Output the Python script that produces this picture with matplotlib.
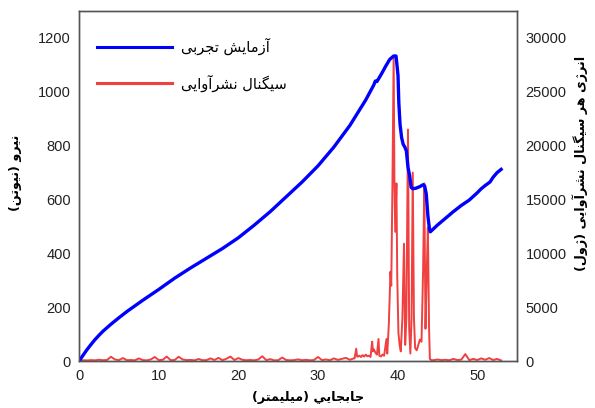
import matplotlib
matplotlib.use("Agg")
import matplotlib.pyplot as plt

# =========================
# Data
# =========================

# Force curve: displacement (mm) / force (N)
force_disp = [0, 0.5, 1, 1.5, 2, 2.5, 3, 3.5, 4, 5, 6, 7, 8, 10, 12, 14, 16, 18, 20,
              22, 24, 26, 28, 30, 32, 34, 36, 37.0, 37.2, 37.4, 37.6, 38.0, 38.5,
              39.0, 39.5, 39.8, 39.95, 40.05, 40.15, 40.3, 40.5, 40.7, 40.9, 41.1,
              41.3, 41.5, 41.7, 41.9, 42.3, 42.8, 43.2, 43.4, 43.6, 43.8, 44.0, 44.1,
              45, 46, 47, 48, 49, 50, 50.5, 51, 51.6, 52, 52.5, 53]
force_val = [0, 22, 43, 62, 80, 96, 111, 124, 137, 161, 184, 205, 226, 266, 308,
             346, 382, 418, 458, 505, 555, 610, 665, 725, 795, 875, 970, 1025,
             1040, 1038, 1048, 1068, 1095, 1120, 1133, 1133, 1090, 1060, 960, 880,
             830, 805, 795, 780, 720, 690, 645, 640, 642, 648, 655, 650, 620, 540,
             490, 480, 505, 530, 555, 578, 598, 625, 640, 652, 665, 683, 700, 712]

# Acoustic emission energy per signal: displacement (mm) / energy (J)
ae_disp = [0.0, 0.5, 1.0, 1.5, 2.0, 2.5, 3.0, 3.5, 4.0, 4.5, 5.0, 5.5, 6.0, 6.5,
           7.0, 7.5, 8.0, 8.5, 9.0, 9.5, 10.0, 10.5, 11.0, 11.5, 12.0, 12.5, 13.0,
           13.5, 14.0, 14.5, 15.0, 15.5, 16.0, 16.5, 17.0, 17.5, 18.0, 18.5, 19.0,
           19.5, 20.0, 20.5, 21.0, 21.5, 22.0, 22.5, 23.0, 23.5, 24.0, 24.5, 25.0,
           25.5, 26.0, 26.5, 27.0, 27.5, 28.0, 28.5, 29.0, 29.5, 30.0, 30.5, 31.0,
           31.5, 32.0, 32.5, 33.0, 33.5, 34.0, 34.5,
           34.6, 34.8, 34.9, 35.0, 35.2, 35.4, 35.6, 35.8, 36.0, 36.2, 36.4, 36.6,
           36.8, 36.9, 37.0, 37.2, 37.4, 37.6, 37.7, 37.9, 38.1, 38.3, 38.6, 38.7,
           38.9, 39.1, 39.2, 39.35, 39.5, 39.6, 39.7, 39.85, 39.95, 40.1, 40.25,
           40.4, 40.6, 40.8, 40.95, 41.1, 41.3, 41.45, 41.6, 41.75, 41.9, 42.05,
           42.2, 42.4, 42.6, 42.8, 43.0, 43.2, 43.35, 43.5, 43.65, 43.8, 43.95,
           44.05, 44.2, 44.5, 45.0, 45.5, 46.0, 46.5, 47.0, 47.5, 48.0, 48.5, 49.0,
           49.5, 50.0, 50.5, 51.0, 51.5, 52.0, 52.5, 53.0]
ae_energy = [0, 80, 60, 90, 70, 120, 80, 100, 400, 150,
             90, 280, 80, 100, 70, 250, 90, 70, 150, 380,
             90, 120, 420, 80, 100, 400, 150, 90, 110, 70,
             200, 80, 90, 250, 100, 300, 80, 220, 420, 100,
             280, 120, 80, 100, 70, 150, 450, 90, 180, 70,
             80, 330, 100, 70, 90, 160, 80, 120, 70, 100,
             380, 90, 150, 80, 250, 110, 200, 300, 120, 250,
             250, 1150, 450, 400, 500, 380, 550, 420, 600, 450, 500, 380,
             1800, 900, 1100, 800, 600, 2050, 500, 420, 600, 500, 2050, 700,
             3500, 8300, 7000, 16500, 28300, 16500, 12000, 16500, 8000, 2600, 1500,
             900, 4000, 10900, 1500, 4000, 21500, 3000, 700, 4000, 17500, 4000,
             1200, 1000, 1500, 2000, 1800, 8400, 16500, 3000, 8000, 12400, 3000,
             200, 100, 80, 150, 90, 120, 80, 200, 100, 130, 650, 90,
             200, 100, 250, 120, 280, 100, 200, 60]

X_TICKS = [0, 10, 20, 30, 40, 50]
F_TICKS = [0, 200, 400, 600, 800, 1000, 1200]
E_TICKS = [0, 5000, 10000, 15000, 20000, 25000, 30000]

LABEL_FORCE = "آزمایش تجربی"
LABEL_AE = "سیگنال نشرآوایی"
XLABEL = "جابجايي (میلیمتر)"
YLABEL_L = "نیرو (نیوتن)"
YLABEL_R = "انرژی هر سیگنال نشرآوایی (ژول)"

BLUE = "#0000ff"
RED = "#f04040"


# =========================
# Minimal Persian shaping (matplotlib does no RTL / joining)
# =========================

# letter: (isolated, final, initial, medial); 2-tuple means right-joining only
FORMS = {
    "ا": ("\uFE8D", "\uFE8E"),
    "آ": ("\uFE81", "\uFE82"),
    "ر": ("\uFEAD", "\uFEAE"),
    "ز": ("\uFEAF", "\uFEB0"),
    "ژ": ("\uFB8A", "\uFB8B"),
    "و": ("\uFEED", "\uFEEE"),
    "ب": ("\uFE8F", "\uFE90", "\uFE91", "\uFE92"),
    "ت": ("\uFE95", "\uFE96", "\uFE97", "\uFE98"),
    "ج": ("\uFE9D", "\uFE9E", "\uFE9F", "\uFEA0"),
    "س": ("\uFEB1", "\uFEB2", "\uFEB3", "\uFEB4"),
    "ش": ("\uFEB5", "\uFEB6", "\uFEB7", "\uFEB8"),
    "گ": ("\uFB92", "\uFB93", "\uFB94", "\uFB95"),
    "ل": ("\uFEDD", "\uFEDE", "\uFEDF", "\uFEE0"),
    "م": ("\uFEE1", "\uFEE2", "\uFEE3", "\uFEE4"),
    "ن": ("\uFEE5", "\uFEE6", "\uFEE7", "\uFEE8"),
    "ه": ("\uFEE9", "\uFEEA", "\uFEEB", "\uFEEC"),
    "ی": ("\uFBFC", "\uFBFD", "\uFBFE", "\uFBFF"),
    "ي": ("\uFEF1", "\uFEF2", "\uFEF3", "\uFEF4"),
}


def shape_fa(text):
    out = []
    for i, ch in enumerate(text):
        forms = FORMS.get(ch)
        if forms is None:
            out.append(ch)
            continue
        prev = text[i - 1] if i > 0 else ""
        nxt = text[i + 1] if i + 1 < len(text) else ""
        joins_prev = prev in FORMS and len(FORMS[prev]) == 4
        joins_next = len(forms) == 4 and nxt in FORMS
        if joins_prev and joins_next:
            out.append(forms[3])
        elif joins_prev:
            out.append(forms[1])
        elif joins_next:
            out.append(forms[2])
        else:
            out.append(forms[0])
    vis = "".join(reversed(out))
    # mirror brackets for right-to-left display
    return vis.translate(str.maketrans("()", ")("))


def main():
    fig = plt.figure(figsize=(5.95, 4.08), dpi=100)
    ax = fig.add_axes([0.133, 0.115, 0.736, 0.858])
    ax2 = ax.twinx()

    l_ae, = ax2.plot(ae_disp, ae_energy, color=RED, lw=1.4)
    l_f, = ax.plot(force_disp, force_val, color=BLUE, lw=2.4)

    # blue curve drawn above the red signal
    ax.set_zorder(ax2.get_zorder() + 1)
    ax.patch.set_visible(False)

    ax.set_xlim(0, 55)
    ax.set_ylim(0, 1300)
    ax2.set_ylim(0, 32500)
    ax.set_xticks(X_TICKS)
    ax.set_yticks(F_TICKS)
    ax2.set_yticks(E_TICKS)

    for a in (ax, ax2):
        a.tick_params(length=0, pad=6, colors="#222222")
        for lab in a.get_xticklabels() + a.get_yticklabels():
            lab.set_fontfamily("Liberation Sans")
            lab.set_fontsize(10.5)
        for s in a.spines.values():
            s.set_color("#555555")
            s.set_linewidth(1.0)

    fa_bold = {"family": "DejaVu Sans", "weight": "bold", "size": 9.2}
    ax.set_xlabel(shape_fa(XLABEL), fontdict=fa_bold)
    ax.set_ylabel(shape_fa(YLABEL_L), fontdict=fa_bold)
    ax2.set_ylabel(shape_fa(YLABEL_R), fontdict=fa_bold)
    ax.xaxis.set_label_coords(0.523, -0.085)
    ax.yaxis.set_label_coords(-0.130, 0.537)
    ax2.yaxis.set_label_coords(1.126, 0.566)

    leg = ax.legend([l_f, l_ae], [shape_fa(LABEL_FORCE), shape_fa(LABEL_AE)],
                    loc="upper left", frameon=False, handlelength=5.2,
                    labelspacing=1.3, handletextpad=0.6,
                    bbox_to_anchor=(0.01, 0.96),
                    prop={"family": "DejaVu Sans", "size": 10.5})
    for line in leg.get_lines():
        line.set_linewidth(2.2)

    fig.savefig("out.png", dpi=100)


if __name__ == "__main__":
    main()
